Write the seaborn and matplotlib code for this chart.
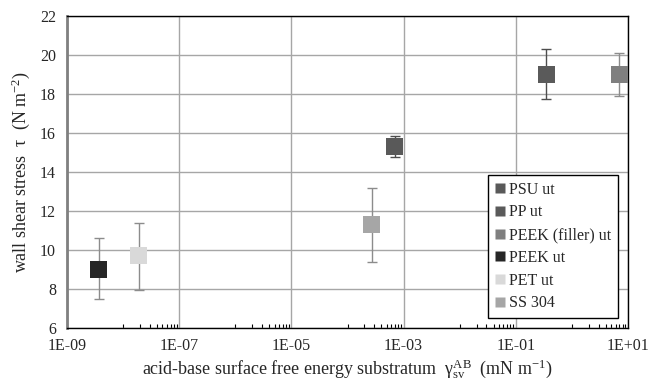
import numpy as np
import pandas as pd
import seaborn as sns
import matplotlib.pyplot as plt
from matplotlib.ticker import FixedLocator, NullFormatter

materials = ['PSU ut', 'PP ut', 'PEEK (filler) ut', 'PEEK ut', 'PET ut', 'SS 304']
gamma_ab = [6.9e-04, 0.35, 7.0, 3.7e-09, 1.9e-08, 2.7e-04]
tau = [15.3, 19.0, 19.0, 9.0, 9.7, 11.3]
tau_low = [14.75, 17.75, 17.9, 7.5, 7.95, 9.4]
tau_high = [15.85, 20.3, 20.1, 10.6, 11.4, 13.2]
colors = ['#595959', '#5a5a5a', '#7f7f7f', '#262626', '#d9d9d9', '#a6a6a6']
err_colors = ['#4d4d4d', '#4d4d4d', '#8c8c8c', '#8c8c8c', '#8c8c8c', '#8c8c8c']

df = pd.DataFrame({'material': materials, 'gamma': gamma_ab, 'tau': tau})

sns.set_style('white')
plt.rcParams['font.family'] = ['Liberation Serif', 'DejaVu Serif']
plt.rcParams['mathtext.fontset'] = 'custom'
plt.rcParams['mathtext.rm'] = 'Liberation Serif'
plt.rcParams['mathtext.it'] = 'Liberation Serif:italic'

fig = plt.figure(figsize=(6.51, 3.83), dpi=100)
ax = fig.add_axes([0.103, 0.1436, 0.8617, 0.8146])

# error bars first, markers on top
for i in range(len(materials)):
    ax.errorbar(gamma_ab[i], tau[i],
                yerr=[[tau[i] - tau_low[i]], [tau_high[i] - tau[i]]],
                fmt='none', ecolor=err_colors[i], elinewidth=1.0,
                capsize=3.3, capthick=1.0, zorder=2)

sns.scatterplot(data=df, x='gamma', y='tau', hue='material', hue_order=materials,
                palette=dict(zip(materials, colors)), marker='s', s=150,
                edgecolor='none', ax=ax, zorder=3)

ax.set_xscale('log')
ax.set_xlim(1e-09, 1e+01)
ax.set_ylim(6, 22)

major = [1e-09, 1e-07, 1e-05, 1e-03, 1e-01, 1e+01]
ax.xaxis.set_major_locator(FixedLocator(major))
ax.set_xticklabels(['1E-09', '1E-07', '1E-05', '1E-03', '1E-01', '1E+01'])
minor = []
for m in major[:-1]:
    for j in range(1, 10):
        minor.append(m * 10 * j)
ax.xaxis.set_minor_locator(FixedLocator(minor))
ax.xaxis.set_minor_formatter(NullFormatter())
ax.set_yticks(np.arange(6, 23, 2))

ax.grid(True, which='major', color='#a6a6a6', linewidth=1.0)
ax.tick_params(axis='x', which='major', direction='in', length=5, width=0.8,
               color='black', labelsize=11.5, pad=7)
ax.tick_params(axis='x', which='minor', direction='in', length=3, width=0.8,
               color='black', bottom=True)
ax.tick_params(axis='y', length=0, labelsize=11.5, pad=8)

for side in ['top', 'right', 'bottom']:
    ax.spines[side].set_color('black')
    ax.spines[side].set_linewidth(1.0)
ax.spines['left'].set_color('#808080')
ax.spines['left'].set_linewidth(2.0)

ax.set_xlabel(r'acid-base surface free energy substratum  $\mathrm{\gamma_{sv}^{AB}}$  (mN m$^{\mathrm{-1}}$)',
              fontsize=13, labelpad=3)
ax.set_ylabel(r'wall shear stress  $\mathrm{\tau}$  (N m$^{\mathrm{-2}}$)', fontsize=13, labelpad=6)

handles, labels = ax.get_legend_handles_labels()
leg = ax.legend(handles, labels, loc='lower right', bbox_to_anchor=(0.982, 0.032),
                borderaxespad=0, frameon=True, fancybox=False, edgecolor='black',
                framealpha=1, fontsize=11.5, markerscale=0.55, handlelength=0.6,
                handletextpad=0.3, labelspacing=0.42, borderpad=0.42)
leg.get_frame().set_linewidth(1.0)

fig.savefig('out.png', dpi=100)
